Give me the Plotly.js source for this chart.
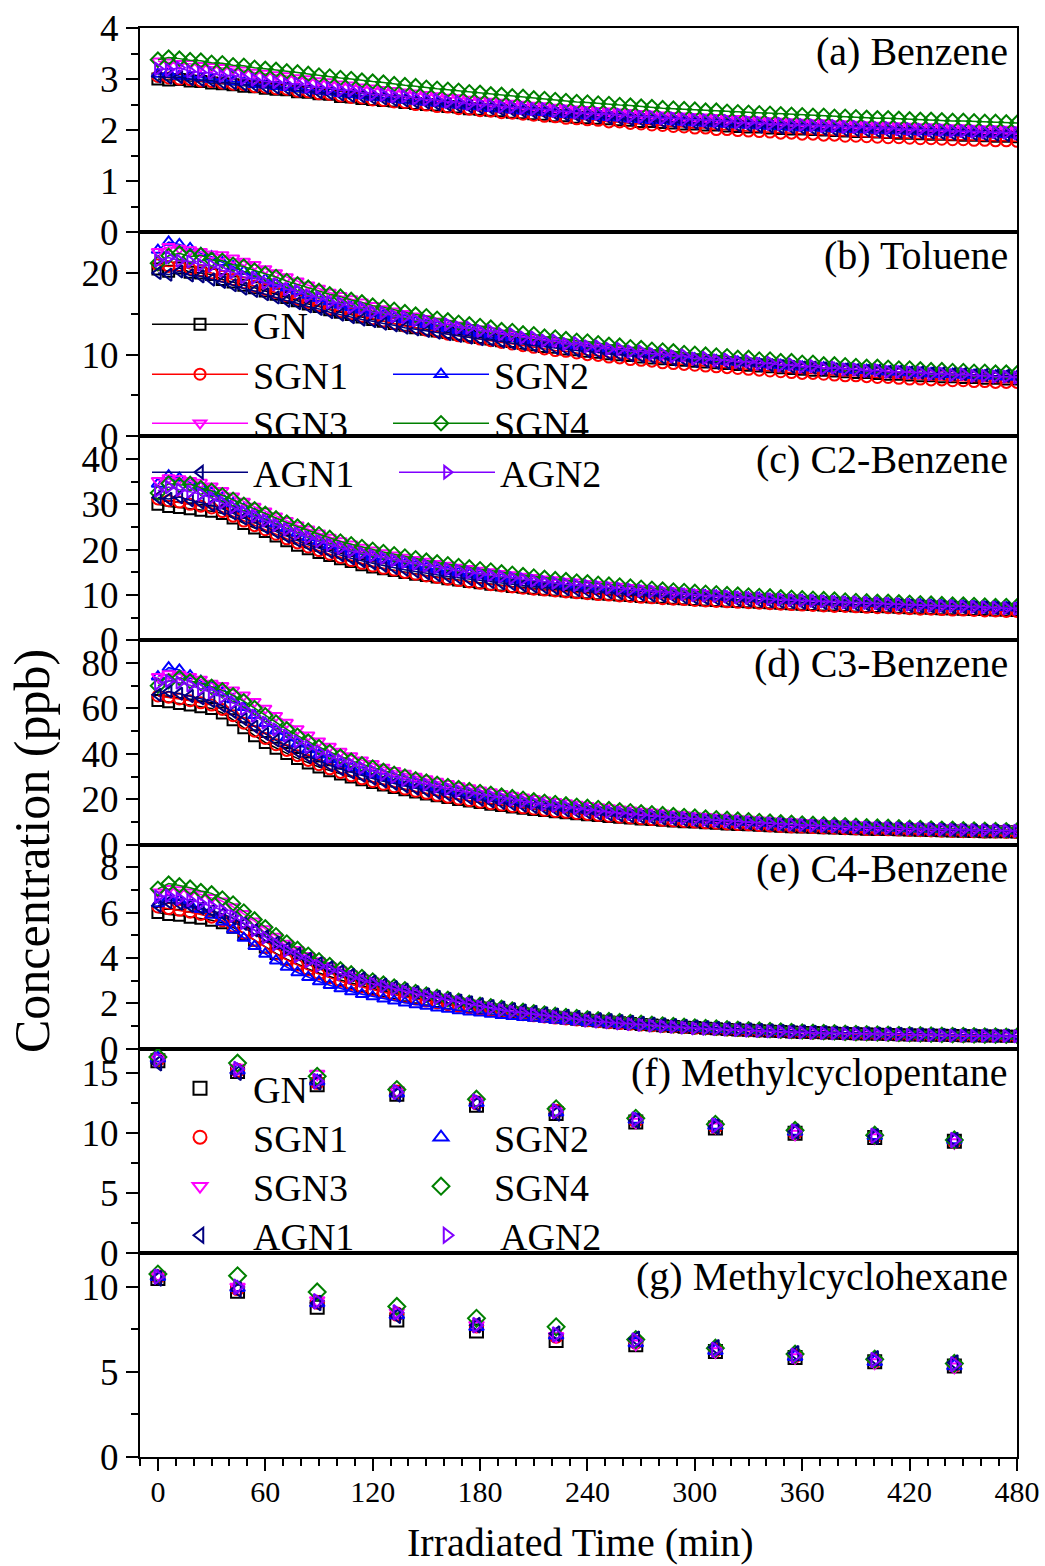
<!DOCTYPE html>
<html><head><meta charset="utf-8">
<script src="https://cdn.plot.ly/plotly-3.0.1.min.js"></script>
<style>body{margin:0;background:#fff}#chart{width:1045px;height:1566px}</style>
</head><body><div id="chart"></div>
<script>
const seriesNames = ['GN','SGN1','SGN2','SGN3','SGN4','AGN1','AGN2'];
const colors = ['#000000','#FF0000','#0000FF','#FF00FF','#008000','#000080','#8000FF'];
const symbols = ['square-open','circle-open','triangle-up-open','triangle-down-open','diamond-open','triangle-left-open','triangle-right-open'];
const panelLabels = ['(a) Benzene','(b) Toluene','(c) C2-Benzene','(d) C3-Benzene','(e) C4-Benzene','(f) Methylcyclopentane','(g) Methylcyclohexane'];
const xTickLabels = ['0','60','120','180','240','300','360','420','480'];

const tPTR = [0,6,12,18,24,30,36,42,48,54,60,66,72,78,84,90,96,102,108,114,120,126,132,138,144,150,156,162,168,174,180,186,192,198,204,210,216,222,228,234,240,246,252,258,264,270,276,282,288,294,300,306,312,318,324,330,336,342,348,354,360,366,372,378,384,390,396,402,408,414,420,426,432,438,444,450,456,462,468,474,480];
const tGC = [0,44.5,89,133.5,178,222.5,267,311.5,356,400.5,445];

// (a) Benzene
const benzeneGN = [3.00,2.98,2.99,2.96,2.95,2.92,2.91,2.89,2.86,2.85,
2.82,2.80,2.79,2.75,2.74,2.71,2.70,2.66,2.65,2.62,
2.60,2.58,2.57,2.54,2.52,2.50,2.49,2.46,2.45,2.42,
2.41,2.39,2.38,2.35,2.34,2.32,2.31,2.28,2.28,2.25,
2.24,2.23,2.22,2.20,2.19,2.17,2.17,2.15,2.14,2.12,
2.12,2.10,2.10,2.08,2.07,2.06,2.06,2.04,2.03,2.02,
2.02,2.01,2.00,1.99,1.98,1.97,1.97,1.96,1.95,1.94,
1.94,1.93,1.92,1.92,1.91,1.90,1.90,1.89,1.88,1.88,1.87];
const benzeneSGN1 = [3.05,3.02,3.00,2.99,2.96,2.95,2.92,2.90,2.89,2.85,
2.84,2.81,2.80,2.76,2.75,2.71,2.70,2.67,2.64,2.63,
2.59,2.58,2.55,2.54,2.50,2.49,2.46,2.45,2.42,2.41,
2.38,2.37,2.34,2.33,2.31,2.29,2.27,2.26,2.23,2.22,
2.20,2.19,2.16,2.16,2.13,2.12,2.10,2.09,2.07,2.06,
2.04,2.04,2.01,2.01,1.99,1.98,1.97,1.96,1.94,1.94,
1.92,1.92,1.90,1.90,1.88,1.88,1.87,1.86,1.85,1.85,
1.84,1.83,1.83,1.82,1.81,1.81,1.80,1.80,1.79,1.79,1.78];
const benzeneSGN2 = [3.10,3.12,3.06,3.05,3.03,3.00,2.99,2.95,2.94,2.90,
2.89,2.86,2.84,2.82,2.79,2.77,2.75,2.72,2.70,2.68,
2.65,2.64,2.61,2.59,2.57,2.55,2.53,2.51,2.49,2.47,
2.46,2.43,2.42,2.40,2.38,2.36,2.35,2.33,2.31,2.30,
2.28,2.27,2.25,2.24,2.22,2.21,2.19,2.19,2.17,2.16,
2.15,2.14,2.13,2.12,2.11,2.10,2.09,2.08,2.07,2.06,
2.05,2.05,2.04,2.03,2.02,2.02,2.01,2.00,1.99,1.99,
1.98,1.97,1.97,1.96,1.95,1.95,1.94,1.93,1.93,1.92,1.91];
const benzeneSGN3 = [3.35,3.33,3.30,3.30,3.26,3.24,3.22,3.19,3.17,3.13,
3.11,3.08,3.06,3.02,3.00,2.96,2.94,2.90,2.88,2.84,
2.82,2.79,2.77,2.74,2.72,2.69,2.67,2.64,2.63,2.60,
2.58,2.56,2.54,2.52,2.50,2.48,2.47,2.44,2.43,2.41,
2.40,2.38,2.37,2.35,2.34,2.32,2.31,2.29,2.28,2.27,
2.26,2.25,2.24,2.22,2.22,2.20,2.19,2.18,2.17,2.16,
2.15,2.14,2.14,2.12,2.12,2.11,2.10,2.09,2.09,2.08,
2.07,2.06,2.06,2.05,2.04,2.04,2.03,2.02,2.02,2.01,2.00];
const benzeneSGN4 = [3.38,3.42,3.40,3.37,3.36,3.32,3.31,3.27,3.26,3.22,
3.20,3.18,3.15,3.13,3.10,3.07,3.05,3.02,3.00,2.97,
2.95,2.93,2.90,2.88,2.86,2.83,2.81,2.79,2.77,2.74,
2.73,2.70,2.69,2.66,2.65,2.62,2.61,2.59,2.57,2.55,
2.54,2.52,2.51,2.49,2.48,2.46,2.45,2.43,2.42,2.41,
2.40,2.38,2.38,2.36,2.35,2.34,2.33,2.32,2.31,2.30,
2.29,2.28,2.28,2.26,2.26,2.25,2.24,2.23,2.23,2.22,
2.21,2.20,2.20,2.19,2.18,2.18,2.17,2.16,2.16,2.15,2.14];
const benzeneAGN1 = [3.05,3.03,3.04,3.00,2.98,2.97,2.93,2.92,2.89,2.88,
2.85,2.83,2.82,2.78,2.77,2.74,2.72,2.70,2.67,2.66,
2.63,2.62,2.59,2.58,2.55,2.54,2.51,2.50,2.47,2.46,
2.44,2.43,2.40,2.39,2.37,2.35,2.34,2.32,2.30,2.29,
2.27,2.26,2.24,2.23,2.21,2.20,2.19,2.17,2.16,2.15,
2.14,2.13,2.11,2.11,2.09,2.09,2.07,2.07,2.05,2.05,
2.04,2.03,2.02,2.01,2.00,2.00,1.99,1.98,1.97,1.97,
1.96,1.95,1.95,1.94,1.93,1.93,1.92,1.91,1.91,1.90,1.89];
const benzeneAGN2 = [3.20,3.18,3.22,3.15,3.13,3.12,3.06,3.08,3.01,2.99,
2.95,2.94,2.90,2.91,2.85,2.84,2.82,2.78,2.78,2.73,
2.70,2.69,2.66,2.66,2.62,2.60,2.59,2.55,2.55,2.51,
2.50,2.49,2.46,2.45,2.43,2.41,2.41,2.37,2.37,2.34,
2.33,2.32,2.30,2.30,2.27,2.26,2.26,2.23,2.23,2.21,
2.20,2.19,2.18,2.18,2.15,2.15,2.14,2.12,2.12,2.10,
2.10,2.09,2.08,2.08,2.06,2.06,2.05,2.04,2.04,2.02,
2.02,2.01,2.00,2.00,1.98,1.98,1.97,1.96,1.96,1.95,1.94];

// (b) Toluene
const tolueneGN = [20.5,20.2,20.6,20.1,20.0,19.8,19.2,18.9,18.5,18.2,
17.8,17.4,17.0,16.6,16.2,15.9,15.5,15.2,14.9,14.6,
14.3,14.1,13.8,13.6,13.3,13.1,12.9,12.7,12.5,12.3,
12.1,11.9,11.7,11.6,11.4,11.2,11.0,10.9,10.7,10.6,
10.4,10.3,10.1,10.0,9.9,9.7,9.6,9.5,9.4,9.3,
9.2,9.1,9.0,8.9,8.8,8.7,8.6,8.5,8.4,8.3,
8.2,8.1,8.1,8.0,7.9,7.8,7.8,7.7,7.6,7.6,
7.5,7.4,7.4,7.3,7.3,7.2,7.2,7.1,7.1,7.0,7.0];
const tolueneSGN1 = [21.0,20.8,20.9,20.5,20.3,20.0,19.6,19.2,18.8,18.4,
18.0,17.6,17.2,16.8,16.4,16.0,15.6,15.3,15.0,14.7,
14.4,14.1,13.8,13.5,13.3,13.0,12.8,12.5,12.3,12.1,
11.9,11.7,11.5,11.3,11.1,10.9,10.7,10.5,10.4,10.2,
10.0,9.9,9.7,9.6,9.4,9.3,9.2,9.0,8.9,8.8,
8.7,8.6,8.5,8.4,8.3,8.2,8.1,8.0,7.9,7.8,
7.7,7.7,7.6,7.5,7.4,7.4,7.3,7.2,7.2,7.1,
7.0,7.0,6.9,6.9,6.8,6.8,6.7,6.7,6.6,6.6,6.6];
const tolueneSGN2 = [22.8,23.8,23.5,23.0,22.4,22.0,21.3,20.8,20.2,19.7,
19.2,18.7,18.2,17.8,17.3,16.9,16.5,16.1,15.8,15.5,
15.1,14.8,14.5,14.3,14.0,13.7,13.5,13.2,13.0,12.8,
12.6,12.4,12.2,12.0,11.8,11.6,11.4,11.3,11.1,11.0,
10.8,10.7,10.5,10.4,10.2,10.1,10.0,9.9,9.7,9.6,
9.5,9.4,9.3,9.2,9.1,9.0,8.9,8.8,8.7,8.6,
8.5,8.4,8.4,8.3,8.2,8.1,8.1,8.0,7.9,7.9,
7.8,7.7,7.7,7.6,7.6,7.5,7.5,7.4,7.4,7.3,7.3];
const tolueneSGN3 = [22.6,23.2,23.0,22.8,22.6,22.3,22.2,21.8,21.4,21.0,
20.5,20.0,19.5,19.0,18.5,18.1,17.6,17.2,16.8,16.4,
16.0,15.6,15.3,15.0,14.7,14.4,14.1,13.8,13.6,13.3,
13.1,12.9,12.6,12.4,12.2,12.0,11.8,11.6,11.4,11.3,
11.1,10.9,10.8,10.6,10.5,10.3,10.2,10.0,9.9,9.8,
9.7,9.5,9.4,9.3,9.2,9.1,9.0,8.9,8.8,8.7,
8.6,8.5,8.4,8.4,8.3,8.2,8.1,8.1,8.0,7.9,
7.9,7.8,7.7,7.7,7.6,7.6,7.5,7.5,7.4,7.4,7.3];
const tolueneSGN4 = [21.2,22.1,22.4,22.0,22.2,21.6,21.5,21.0,20.8,20.3,
19.9,19.5,19.0,18.6,18.2,17.8,17.4,17.1,16.7,16.4,
16.0,15.8,15.5,15.2,14.9,14.7,14.4,14.2,13.9,13.7,
13.5,13.3,13.0,12.9,12.6,12.5,12.2,12.1,11.9,11.7,
11.6,11.4,11.2,11.1,10.9,10.8,10.6,10.5,10.4,10.2,
10.1,10.0,9.9,9.8,9.6,9.6,9.4,9.4,9.2,9.2,
9.0,9.0,8.8,8.8,8.7,8.6,8.5,8.5,8.4,8.3,
8.3,8.2,8.1,8.1,8.0,8.0,7.9,7.9,7.8,7.8,7.7];
const tolueneAGN1 = [20.0,19.8,20.2,19.7,19.6,19.2,18.9,18.5,18.1,17.8,
17.4,17.0,16.6,16.3,15.9,15.6,15.2,14.9,14.6,14.3,
14.1,13.8,13.6,13.3,13.1,12.9,12.7,12.5,12.3,12.1,
11.9,11.8,11.6,11.4,11.3,11.1,11.0,10.8,10.7,10.5,
10.4,10.3,10.1,10.0,9.9,9.8,9.7,9.6,9.4,9.4,
9.2,9.2,9.0,9.0,8.9,8.8,8.7,8.7,8.6,8.5,
8.4,8.4,8.3,8.2,8.2,8.1,8.0,8.0,7.9,7.9,
7.8,7.8,7.7,7.7,7.6,7.6,7.5,7.5,7.4,7.4,7.4];
const tolueneAGN2 = [21.5,21.9,21.5,21.4,21.0,20.9,20.3,20.1,19.5,19.4,
18.8,18.6,18.0,17.8,17.2,17.0,16.4,16.3,15.8,15.7,
15.2,15.1,14.7,14.6,14.2,14.1,13.7,13.7,13.3,13.3,
12.9,12.9,12.5,12.5,12.1,12.1,11.7,11.7,11.3,11.4,
11.0,11.0,10.7,10.7,10.4,10.4,10.1,10.1,9.8,9.9,
9.5,9.6,9.3,9.4,9.1,9.2,8.9,9.0,8.7,8.8,
8.5,8.6,8.3,8.4,8.2,8.2,8.0,8.1,7.9,7.9,
7.8,7.8,7.6,7.7,7.5,7.6,7.4,7.4,7.3,7.3,7.2];

// (c) C2-Benzene
const c2GN = [30.0,29.5,29.3,29.0,28.7,28.5,28.0,27.0,25.8,24.8,
24.0,23.0,22.0,21.0,20.2,19.4,18.7,18.0,17.4,16.7,
16.2,15.8,15.4,15.0,14.6,14.3,14.0,13.6,13.3,13.0,
12.7,12.4,12.2,11.9,11.7,11.5,11.3,11.1,10.9,10.7,
10.5,10.3,10.2,10.0,9.9,9.7,9.6,9.5,9.3,9.2,
9.0,8.9,8.8,8.7,8.6,8.5,8.4,8.3,8.2,8.1,
8.0,7.9,7.8,7.8,7.7,7.6,7.5,7.5,7.4,7.3,
7.2,7.2,7.1,7.0,7.0,6.9,6.8,6.8,6.7,6.7,6.6];
const c2SGN1 = [31.2,30.8,30.5,30.0,29.6,29.2,28.4,27.4,26.3,25.3,
24.4,23.4,22.4,21.5,20.6,19.8,19.0,18.3,17.6,17.0,
16.4,15.9,15.5,15.0,14.6,14.2,13.9,13.5,13.2,12.9,
12.6,12.3,12.0,11.8,11.5,11.3,11.1,10.9,10.7,10.5,
10.3,10.1,10.0,9.8,9.7,9.5,9.4,9.2,9.1,9.0,
8.8,8.7,8.6,8.5,8.4,8.3,8.2,8.1,8.0,7.9,
7.8,7.7,7.6,7.5,7.5,7.4,7.3,7.2,7.2,7.1,
7.0,6.9,6.9,6.8,6.7,6.7,6.6,6.5,6.5,6.4,6.4];
const c2SGN2 = [34.5,36.3,35.8,34.8,33.8,32.6,31.4,30.2,29.0,27.9,
26.8,25.7,24.7,23.7,22.7,21.8,21.0,20.2,19.5,18.9,
18.3,17.8,17.3,16.8,16.4,16.0,15.6,15.2,14.9,14.6,
14.3,14.0,13.7,13.4,13.2,12.9,12.7,12.4,12.2,12.0,
11.8,11.6,11.4,11.2,11.0,10.8,10.7,10.5,10.3,10.2,
10.0,9.9,9.8,9.6,9.5,9.4,9.3,9.1,9.0,8.9,
8.8,8.7,8.6,8.5,8.4,8.3,8.3,8.2,8.1,8.0,
7.9,7.9,7.8,7.7,7.6,7.6,7.5,7.4,7.4,7.3,7.2];
const c2SGN3 = [35.2,35.8,35.6,35.2,34.8,34.0,33.0,31.8,30.6,29.5,
28.5,27.4,26.4,25.4,24.5,23.6,22.7,21.9,21.2,20.5,
19.9,19.3,18.8,18.3,17.8,17.4,16.9,16.5,16.1,15.8,
15.4,15.1,14.7,14.4,14.1,13.8,13.5,13.3,13.0,12.8,
12.5,12.3,12.1,11.9,11.6,11.4,11.2,11.0,10.9,10.7,
10.5,10.3,10.2,10.0,9.9,9.8,9.6,9.5,9.4,9.3,
9.1,9.0,8.9,8.8,8.7,8.6,8.5,8.4,8.3,8.2,
8.1,8.1,8.0,7.9,7.8,7.7,7.7,7.6,7.5,7.4,7.4];
const c2SGN4 = [32.5,34.6,34.2,34.5,33.6,33.0,32.0,31.0,29.9,28.9,
27.9,26.9,26.0,25.1,24.2,23.4,22.6,21.8,21.2,20.6,
20.0,19.5,19.0,18.5,18.1,17.6,17.2,16.8,16.4,16.1,
15.7,15.4,15.0,14.7,14.4,14.1,13.8,13.5,13.3,13.0,
12.8,12.5,12.3,12.1,11.9,11.6,11.4,11.2,11.0,10.9,
10.7,10.5,10.4,10.2,10.1,9.9,9.8,9.7,9.5,9.4,
9.3,9.2,9.1,9.0,8.8,8.7,8.6,8.5,8.5,8.4,
8.3,8.2,8.1,8.0,7.9,7.9,7.8,7.7,7.6,7.6,7.5];
const c2AGN1 = [31.5,31.2,31.6,30.9,30.4,29.8,29.0,28.0,26.9,25.9,
24.9,23.9,22.9,22.0,21.1,20.3,19.5,18.8,18.1,17.5,
17.0,16.5,16.0,15.6,15.2,14.8,14.4,14.1,13.8,13.5,
13.2,12.9,12.6,12.4,12.1,11.9,11.7,11.5,11.3,11.1,
10.9,10.7,10.6,10.4,10.2,10.1,9.9,9.8,9.7,9.5,
9.4,9.3,9.2,9.1,8.9,8.8,8.7,8.6,8.5,8.4,
8.3,8.3,8.2,8.1,8.0,7.9,7.9,7.8,7.7,7.7,
7.6,7.5,7.5,7.4,7.3,7.3,7.2,7.2,7.1,7.1,7.0];
const c2AGN2 = [33.0,33.8,33.2,32.8,32.2,31.4,30.3,29.3,28.3,27.4,
26.4,25.4,24.5,23.6,22.7,21.9,21.1,20.4,19.7,19.2,
18.7,18.2,17.7,17.3,16.9,16.5,16.1,15.7,15.4,15.0,
14.7,14.4,14.1,13.8,13.5,13.2,12.9,12.7,12.4,12.2,
12.0,11.8,11.6,11.4,11.2,11.0,10.8,10.6,10.4,10.2,
10.0,9.9,9.8,9.7,9.5,9.4,9.3,9.1,9.0,8.9,
8.8,8.7,8.6,8.5,8.4,8.4,8.3,8.2,8.1,8.0,
7.9,7.8,7.7,7.6,7.6,7.5,7.4,7.3,7.2,7.1,7.0];

// (d) C3-Benzene
const c3GN = [63.5,63.0,62.2,61.5,60.8,60.0,58.0,55.0,51.5,48.0,
45.0,42.5,40.2,38.0,36.0,34.2,32.6,31.1,29.8,28.6,
27.4,26.3,25.2,24.2,23.2,22.3,21.5,20.7,19.9,19.2,
18.5,17.8,17.2,16.6,16.0,15.5,15.0,14.5,14.0,13.6,
13.2,12.8,12.4,12.0,11.7,11.3,11.0,10.7,10.4,10.1,
9.9,9.6,9.4,9.1,8.9,8.7,8.5,8.3,8.1,7.9,
7.7,7.6,7.4,7.3,7.1,7.0,6.8,6.7,6.6,6.5,
6.4,6.3,6.2,6.1,6.0,5.9,5.8,5.7,5.6,5.6,5.5];
const c3SGN1 = [65.5,65.0,64.2,63.4,62.5,61.5,59.6,56.8,53.5,50.0,
46.8,44.0,41.5,39.2,37.1,35.2,33.4,31.8,30.3,29.0,
27.8,26.6,25.5,24.5,23.5,22.6,21.7,20.9,20.1,19.4,
18.7,18.0,17.4,16.8,16.2,15.7,15.1,14.6,14.2,13.7,
13.3,12.9,12.5,12.1,11.7,11.4,11.0,10.7,10.4,10.2,
9.9,9.6,9.4,9.1,8.9,8.7,8.4,8.2,8.0,7.8,
7.7,7.5,7.3,7.2,7.0,6.9,6.7,6.6,6.5,6.4,
6.2,6.1,6.0,5.9,5.8,5.7,5.6,5.5,5.5,5.4,5.3];
const c3SGN2 = [74.0,78.0,77.0,74.5,72.0,69.5,67.0,64.0,60.5,57.0,
53.5,50.2,47.2,44.4,41.9,39.6,37.5,35.6,33.9,32.3,
30.9,29.6,28.4,27.3,26.3,25.3,24.4,23.5,22.7,21.9,
21.1,20.4,19.7,19.0,18.4,17.8,17.2,16.7,16.2,15.7,
15.2,14.7,14.3,13.9,13.4,13.0,12.6,12.3,11.9,11.6,
11.3,11.0,10.7,10.4,10.1,9.9,9.6,9.4,9.2,8.9,
8.7,8.5,8.3,8.2,8.0,7.8,7.7,7.5,7.4,7.3,
7.1,7.0,6.9,6.8,6.7,6.6,6.5,6.4,6.3,6.2,6.1];
const c3SGN3 = [74.0,75.2,75.0,74.0,72.8,71.0,70.0,68.0,65.8,63.0,
60.0,56.8,53.8,51.0,48.2,45.6,43.2,41.0,39.0,37.2,
35.6,34.0,32.6,31.3,30.0,28.9,27.8,26.8,25.8,24.9,
24.0,23.2,22.4,21.6,20.9,20.2,19.5,18.9,18.3,17.7,
17.1,16.6,16.1,15.6,15.1,14.6,14.2,13.8,13.4,13.0,
12.6,12.3,11.9,11.6,11.3,11.0,10.7,10.4,10.1,9.9,
9.6,9.4,9.2,9.0,8.8,8.6,8.4,8.2,8.0,7.9,
7.7,7.6,7.4,7.3,7.2,7.0,6.9,6.8,6.7,6.6,6.5];
const c3SGN4 = [70.0,72.0,73.5,72.0,71.2,69.5,68.0,65.8,63.2,60.2,
57.0,53.8,50.8,48.0,45.4,43.0,40.8,38.8,37.0,35.4,
33.9,32.5,31.2,30.0,28.8,27.8,26.8,25.8,24.9,24.0,
23.2,22.4,21.6,20.9,20.2,19.5,18.9,18.3,17.7,17.1,
16.6,16.1,15.6,15.1,14.7,14.2,13.8,13.4,13.0,12.6,
12.3,11.9,11.6,11.3,11.0,10.7,10.4,10.1,9.8,9.6,
9.3,9.1,8.9,8.7,8.5,8.3,8.1,7.9,7.8,7.6,
7.4,7.3,7.1,7.0,6.9,6.7,6.6,6.5,6.4,6.3,6.2];
const c3AGN1 = [66.0,67.5,66.5,65.5,64.5,63.2,61.2,58.5,55.3,52.0,
48.8,45.9,43.3,41.0,38.8,36.8,35.0,33.3,31.8,30.4,
29.1,27.9,26.8,25.7,24.7,23.8,22.9,22.0,21.2,20.5,
19.8,19.1,18.4,17.8,17.2,16.6,16.1,15.6,15.1,14.6,
14.2,13.7,13.3,12.9,12.5,12.2,11.8,11.5,11.2,10.9,
10.6,10.3,10.1,9.8,9.6,9.3,9.1,8.9,8.7,8.5,
8.3,8.1,7.9,7.8,7.6,7.5,7.3,7.2,7.0,6.9,
6.8,6.7,6.6,6.5,6.4,6.3,6.2,6.1,6.0,5.9,5.8];
const c3AGN2 = [71.0,72.2,71.4,70.2,68.6,67.0,65.0,62.6,59.8,56.8,
53.8,50.8,48.0,45.4,43.0,40.8,38.8,37.0,35.4,33.8,
32.4,31.0,29.8,28.6,27.5,26.4,25.4,24.5,23.6,22.8,
22.0,21.2,20.4,19.7,19.0,18.3,17.7,17.1,16.5,16.0,
15.4,14.9,14.4,14.0,13.5,13.1,12.7,12.3,11.9,11.6,
11.2,10.9,10.6,10.3,10.0,9.8,9.5,9.3,9.0,8.8,
8.6,8.4,8.2,8.0,7.9,7.7,7.5,7.4,7.3,7.1,
7.0,6.9,6.8,6.7,6.6,6.5,6.4,6.3,6.2,6.1,6.0];

// (e) C4-Benzene
const c4GN = [6.00,5.92,5.88,5.80,5.75,5.66,5.55,5.35,5.08,4.78,
4.48,4.20,3.95,3.72,3.52,3.34,3.18,3.03,2.90,2.77,
2.65,2.54,2.44,2.34,2.25,2.16,2.08,2.00,1.93,1.86,
1.79,1.72,1.66,1.60,1.54,1.49,1.44,1.39,1.34,1.30,
1.26,1.22,1.18,1.14,1.11,1.07,1.04,1.01,0.98,0.95,
0.93,0.90,0.88,0.85,0.83,0.81,0.79,0.77,0.76,0.74,
0.72,0.71,0.70,0.68,0.67,0.66,0.65,0.64,0.63,0.62,
0.61,0.60,0.59,0.59,0.58,0.57,0.57,0.56,0.56,0.55,0.55];
const c4SGN1 = [6.25,6.18,6.10,6.02,5.92,5.80,5.64,5.40,5.10,4.78,
4.46,4.17,3.91,3.68,3.47,3.29,3.12,2.97,2.83,2.71,
2.59,2.48,2.38,2.28,2.19,2.10,2.02,1.94,1.87,1.80,
1.73,1.67,1.61,1.55,1.50,1.45,1.40,1.35,1.31,1.27,
1.23,1.19,1.15,1.11,1.08,1.05,1.01,0.98,0.96,0.93,
0.90,0.88,0.86,0.83,0.81,0.79,0.77,0.76,0.74,0.72,
0.71,0.69,0.68,0.67,0.65,0.64,0.63,0.62,0.61,0.60,
0.59,0.58,0.58,0.57,0.56,0.55,0.55,0.54,0.54,0.53,0.53];
const c4SGN2 = [6.40,6.65,6.55,6.35,6.15,5.90,5.60,5.25,4.88,4.52,
4.18,3.88,3.60,3.36,3.15,2.96,2.80,2.65,2.52,2.40,
2.30,2.20,2.11,2.03,1.95,1.88,1.81,1.75,1.69,1.63,
1.58,1.53,1.48,1.43,1.39,1.35,1.31,1.27,1.24,1.20,
1.17,1.14,1.11,1.08,1.05,1.02,1.00,0.97,0.95,0.93,
0.91,0.89,0.87,0.85,0.83,0.81,0.80,0.78,0.77,0.75,
0.74,0.72,0.71,0.70,0.69,0.68,0.67,0.66,0.65,0.64,
0.63,0.62,0.61,0.61,0.60,0.59,0.59,0.58,0.58,0.57,0.57];
const c4SGN3 = [6.90,7.05,7.00,6.90,6.80,6.65,6.50,6.25,5.95,5.62,
5.28,4.95,4.64,4.36,4.10,3.87,3.66,3.47,3.29,3.13,
2.98,2.84,2.71,2.59,2.48,2.37,2.27,2.18,2.09,2.01,
1.93,1.85,1.78,1.71,1.65,1.59,1.53,1.48,1.43,1.38,
1.33,1.29,1.25,1.21,1.17,1.13,1.10,1.06,1.03,1.00,
0.97,0.95,0.92,0.90,0.87,0.85,0.83,0.81,0.79,0.77,
0.76,0.74,0.72,0.71,0.70,0.68,0.67,0.66,0.65,0.64,
0.63,0.62,0.61,0.60,0.59,0.59,0.58,0.57,0.57,0.56,0.56];
const c4SGN4 = [7.05,7.28,7.20,7.10,6.95,6.85,6.62,6.40,6.05,5.70,
5.35,5.00,4.68,4.40,4.14,3.90,3.69,3.50,3.32,3.16,
3.01,2.87,2.74,2.62,2.50,2.39,2.29,2.20,2.11,2.02,
1.94,1.87,1.80,1.73,1.67,1.61,1.55,1.49,1.44,1.39,
1.34,1.30,1.26,1.22,1.18,1.14,1.10,1.07,1.04,1.01,
0.98,0.95,0.93,0.90,0.88,0.86,0.84,0.82,0.80,0.78,
0.76,0.75,0.73,0.72,0.70,0.69,0.68,0.67,0.66,0.65,
0.64,0.63,0.62,0.61,0.60,0.60,0.59,0.58,0.58,0.57,0.57];
const c4AGN1 = [6.30,6.45,6.40,6.30,6.20,6.08,5.95,5.75,5.50,5.22,
4.95,4.68,4.42,4.18,3.96,3.76,3.58,3.41,3.25,3.10,
2.96,2.83,2.71,2.60,2.49,2.39,2.29,2.20,2.12,2.04,
1.96,1.88,1.81,1.74,1.68,1.62,1.56,1.50,1.45,1.40,
1.35,1.30,1.26,1.22,1.18,1.14,1.10,1.07,1.04,1.01,
0.98,0.95,0.92,0.90,0.88,0.85,0.83,0.81,0.79,0.77,
0.76,0.74,0.73,0.71,0.70,0.69,0.68,0.67,0.66,0.65,
0.64,0.63,0.62,0.61,0.61,0.60,0.59,0.59,0.58,0.58,0.57];
const c4AGN2 = [6.70,6.75,6.62,6.55,6.42,6.28,6.10,5.85,5.55,5.22,
4.90,4.60,4.32,4.07,3.85,3.65,3.47,3.30,3.15,3.00,
2.87,2.75,2.63,2.52,2.42,2.32,2.23,2.14,2.06,1.98,
1.86,1.78,1.70,1.63,1.57,1.51,1.45,1.40,1.35,1.30,
1.24,1.20,1.16,1.12,1.08,1.05,1.02,0.99,0.96,0.93,
0.90,0.88,0.86,0.84,0.82,0.80,0.78,0.76,0.75,0.73,
0.72,0.70,0.69,0.68,0.67,0.66,0.65,0.64,0.63,0.62,
0.61,0.60,0.60,0.59,0.58,0.58,0.57,0.57,0.56,0.56,0.55];

// (f) Methylcyclopentane
const mcpGN   = [16.0,15.1,14.0,13.2,12.3,11.6,10.9,10.4,9.95,9.6,9.3];
const mcpSGN1 = [16.1,15.2,14.2,13.4,12.5,11.8,11.0,10.5,10.0,9.7,9.3];
const mcpSGN2 = [16.2,15.2,14.3,13.3,12.5,11.7,11.1,10.6,10.1,9.75,9.4];
const mcpSGN3 = [16.2,15.4,14.9,13.5,12.6,11.8,10.9,10.5,9.9,9.6,9.2];
const mcpSGN4 = [16.3,15.8,14.7,13.6,12.8,12.0,11.2,10.7,10.2,9.8,9.4];
const mcpAGN1 = [15.8,15.0,14.2,13.2,12.4,11.6,11.0,10.5,10.1,9.7,9.4];
const mcpAGN2 = [16.1,15.3,14.3,13.4,12.6,11.8,11.1,10.6,10.1,9.75,9.4];

// (g) Methylcyclohexane
const mchGN   = [10.5,9.75,8.8,8.05,7.4,6.85,6.6,6.2,5.85,5.6,5.35];
const mchSGN1 = [10.6,9.9,9.1,8.4,7.7,7.1,6.75,6.3,5.95,5.65,5.4];
const mchSGN2 = [10.6,9.95,9.05,8.35,7.65,7.15,6.7,6.25,5.9,5.6,5.35];
const mchSGN3 = [10.7,10.0,9.2,8.5,7.75,7.1,6.65,6.2,5.85,5.55,5.3];
const mchSGN4 = [10.75,10.65,9.7,8.85,8.15,7.65,6.9,6.4,6.05,5.75,5.5];
const mchAGN1 = [10.5,9.85,9.05,8.3,7.75,7.25,6.95,6.45,6.1,5.8,5.55];
const mchAGN2 = [10.6,10.0,9.15,8.5,7.75,7.2,6.85,6.3,5.95,5.7,5.45];

const panelSeries = [
  [benzeneGN,benzeneSGN1,benzeneSGN2,benzeneSGN3,benzeneSGN4,benzeneAGN1,benzeneAGN2],
  [tolueneGN,tolueneSGN1,tolueneSGN2,tolueneSGN3,tolueneSGN4,tolueneAGN1,tolueneAGN2],
  [c2GN,c2SGN1,c2SGN2,c2SGN3,c2SGN4,c2AGN1,c2AGN2],
  [c3GN,c3SGN1,c3SGN2,c3SGN3,c3SGN4,c3AGN1,c3AGN2],
  [c4GN,c4SGN1,c4SGN2,c4SGN3,c4SGN4,c4AGN1,c4AGN2],
  [mcpGN,mcpSGN1,mcpSGN2,mcpSGN3,mcpSGN4,mcpAGN1,mcpAGN2],
  [mchGN,mchSGN1,mchSGN2,mchSGN3,mchSGN4,mchAGN1,mchAGN2]
];
const yRanges = [[0,4],[0,25],[0,45],[0,90],[0,9],[0,17],[0,12]];
const yDticks = [1,10,10,20,2,5,5];
const yMinor  = [0.5,5,5,10,1,2.5,2.5];

const FONT = 'Liberation Serif';
const nP = 7;
const W = 1045, H = 1566, ML = 140, MR = 28, MT = 28, MB = 109;
const PW = W - ML - MR, PH = H - MT - MB;
const px2x = v => (v - ML) / PW;
const py2y = v => (H - MB - v) / PH;

const entryRow = [0,1,1,2,2,3,3];
const entryCol = [0,0,1,0,1,0,1];
const rowCentersTop = [326,376,425,474];
const rowCentersBot = [1090,1139,1188,1237];
const colLeft = [147, 388];
const legendId = (block, s) => {
  const n = block * 7 + s + 1;
  return n === 1 ? 'legend' : 'legend' + n;
};

const traces = [];
for (let p = 0; p < nP; p++) {
  const sfx = p === 0 ? '' : String(p+1);
  const gc = p >= 5;
  for (let s = 0; s < 7; s++) {
    const block = p === 0 ? 0 : 1;
    traces.push({
      type: 'scatter',
      mode: gc ? 'markers' : 'lines+markers',
      x: gc ? tGC : tPTR,
      y: panelSeries[p][s],
      xaxis: 'x' + sfx, yaxis: 'y' + sfx,
      name: seriesNames[s],
      line: {color: colors[s], width: 1.5},
      marker: {symbol: symbols[s], size: gc ? 13 : 11, color: colors[s], line: {color: colors[s], width: 2}},
      showlegend: p === 0 || p === 5,
      legend: legendId(block, s),
      hoverinfo: 'skip'
    });
  }
}

const layout = {
  width: W, height: H,
  margin: {l: ML, r: MR, t: MT, b: MB},
  paper_bgcolor: '#fff', plot_bgcolor: '#fff',
  font: {family: FONT, color: '#000'},
  showlegend: true,
  annotations: []
};
for (let p = 0; p < nP; p++) {
  const sfx = p === 0 ? '' : String(p+1);
  const bottom = p === nP - 1;
  const xa = {
    domain: [0,1], anchor: 'y' + sfx, range: [-10, 480],
    showline: true, mirror: true, linecolor: '#000', linewidth: 2,
    showgrid: false, zeroline: false,
    ticks: bottom ? 'outside' : '', ticklen: 12, tickwidth: 2, tickcolor: '#000',
    showticklabels: bottom,
    tickmode: 'array', tickvals: xTickLabels.map(Number), ticktext: xTickLabels,
    tickfont: {family: FONT, size: 30, color: '#000'}
  };
  if (bottom) {
    xa.minor = {dtick: 10, tick0: 0, ticks: 'outside', ticklen: 7, tickwidth: 2, tickcolor: '#000', showgrid: false};
    xa.ticklabelstandoff = -5;
  }
  layout['xaxis' + sfx] = xa;
  layout['yaxis' + sfx] = {
    domain: [1 - (p+1)/nP, 1 - p/nP], anchor: 'x' + sfx, range: yRanges[p],
    showline: true, mirror: true, linecolor: '#000', linewidth: 2,
    showgrid: false, zeroline: false,
    ticks: 'outside', ticklen: 12, tickwidth: 2, tickcolor: '#000',
    dtick: yDticks[p], tick0: 0,
    tickfont: {family: FONT, size: 37, color: '#000'},
    minor: {dtick: yMinor[p], tick0: 0, ticks: 'outside', ticklen: 7, tickwidth: 2, tickcolor: '#000', showgrid: false}
  };
  layout.annotations.push({
    text: panelLabels[p], xref: 'paper', yref: 'y' + sfx + ' domain',
    x: 1, y: 1, xanchor: 'right', yanchor: 'top', xshift: -7, yshift: 1,
    showarrow: false, font: {family: FONT, size: 40, color: '#000'}
  });
}
layout.annotations.push({
  text: 'Concentration (ppb)', xref: 'paper', yref: 'paper', x: px2x(32), y: py2y(851),
  xanchor: 'center', yanchor: 'middle', textangle: -90, showarrow: false,
  font: {family: FONT, size: 50, color: '#000'}
});
layout.annotations.push({
  text: 'Irradiated Time (min)', xref: 'paper', yref: 'paper', x: px2x(580), y: py2y(1543),
  xanchor: 'center', yanchor: 'middle', showarrow: false,
  font: {family: FONT, size: 40, color: '#000'}
});
for (let block = 0; block < 2; block++) {
  const rows = block === 0 ? rowCentersTop : rowCentersBot;
  for (let s = 0; s < 7; s++) {
    const left = colLeft[entryCol[s]] + (s === 6 ? 6 : 0);
    layout[legendId(block, s)] = {
      bgcolor: 'rgba(0,0,0,0)', borderwidth: 0,
      font: {family: FONT, size: 38, color: '#000'},
      orientation: 'v', xanchor: 'left', yanchor: 'top',
      x: px2x(left), y: py2y(rows[entryRow[s]] - 33),
      itemwidth: 96, itemclick: false, itemdoubleclick: false
    };
  }
}

Plotly.newPlot('chart', traces, layout, {staticPlot: true, displayModeBar: false});
</script></body></html>
